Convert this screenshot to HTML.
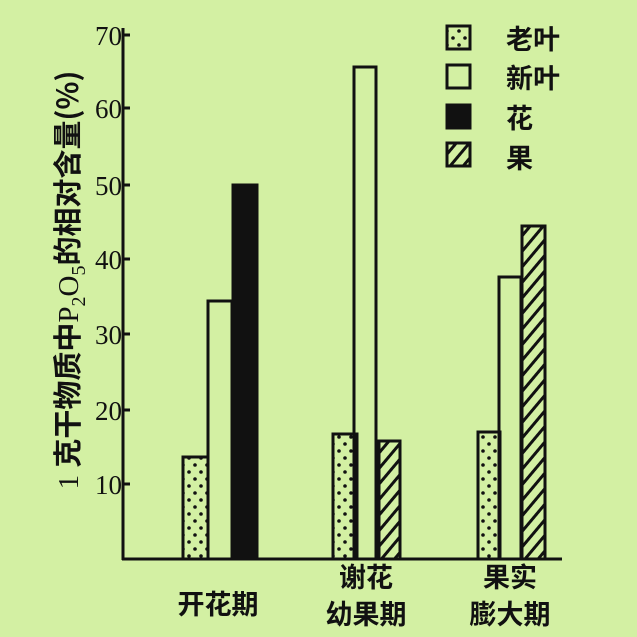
<!DOCTYPE html>
<html><head><meta charset="utf-8"><style>
html,body{margin:0;padding:0;background:#d3f0a3;}
svg{display:block}
text{font-family:"Liberation Serif","Noto Serif CJK SC","Noto Sans CJK SC",serif;fill:#111}
.cj{font-family:"Noto Sans CJK SC","WenQuanYi Zen Hei",sans-serif;font-weight:bold}
</style></head><body>
<svg width="637" height="637" viewBox="0 0 637 637" xmlns="http://www.w3.org/2000/svg">
<defs>
<pattern id="dots" width="12" height="14" patternUnits="userSpaceOnUse">
<rect width="12" height="14" fill="#d3f0a3"/>
<circle cx="3" cy="3" r="1.8" fill="#111"/><circle cx="9" cy="10" r="1.8" fill="#111"/>
</pattern>
<pattern id="hatch" width="10" height="10" patternUnits="userSpaceOnUse" patternTransform="rotate(40)">
<rect width="10" height="10" fill="#d3f0a3"/><rect x="0" y="0" width="3" height="10" fill="#111"/>
</pattern>
</defs>
<rect width="637" height="637" fill="#d3f0a3"/>
<line x1="123" y1="28" x2="123" y2="560" stroke="#111" stroke-width="3"/>
<line x1="122" y1="559" x2="562" y2="559" stroke="#111" stroke-width="3"/>
<g stroke="#111" stroke-width="3">
<line x1="123" y1="35" x2="130" y2="35"/><line x1="123" y1="108" x2="130" y2="108"/>
<line x1="123" y1="185" x2="130" y2="185"/><line x1="123" y1="259" x2="130" y2="259"/>
<line x1="123" y1="334" x2="130" y2="334"/><line x1="123" y1="410" x2="130" y2="410"/>
<line x1="123" y1="484" x2="130" y2="484"/>
</g>
<g font-size="27" text-anchor="end">
<text x="122" y="45">70</text><text x="122" y="118">60</text><text x="122" y="195">50</text>
<text x="122" y="269">40</text><text x="122" y="344">30</text><text x="122" y="420">20</text>
<text x="122" y="494">10</text>
</g>
<text transform="translate(78,280) rotate(-90)" text-anchor="middle" font-size="29">1 <tspan class="cj" font-weight="normal">克干物质中</tspan>P<tspan font-size="20" dy="7">2</tspan><tspan dy="-7">O</tspan><tspan font-size="20" dy="7">5</tspan><tspan dy="-7" class="cj" font-weight="normal">的相对含量(%)</tspan></text>
<g stroke="#111" stroke-width="3">
<rect x="183" y="457" width="25" height="102" fill="url(#dots)"/>
<rect x="208" y="301" width="24" height="258" fill="none"/>
<rect x="233" y="185" width="24" height="374" fill="#111"/>
<rect x="333" y="434" width="24" height="125" fill="url(#dots)"/>
<rect x="354" y="67" width="22" height="492" fill="none"/>
<rect x="379" y="441" width="21" height="118" fill="url(#hatch)"/>
<rect x="478" y="432" width="22" height="127" fill="url(#dots)"/>
<rect x="499" y="277" width="22" height="282" fill="none"/>
<rect x="522" y="226" width="23" height="333" fill="url(#hatch)"/>
</g>
<g font-size="27" text-anchor="middle">
<text x="218" y="614" class="cj">开花期</text>
<text x="366" y="587" class="cj">谢花</text><text x="366" y="624" class="cj">幼果期</text>
<text x="510" y="587" class="cj">果实</text><text x="510" y="624" class="cj">膨大期</text>
</g>
<g stroke="#111" stroke-width="3">
<rect x="447" y="26" width="23" height="23" fill="url(#dots)"/>
<rect x="447" y="65" width="23" height="23" fill="none"/>
<rect x="447" y="105" width="23" height="23" fill="#111"/>
<rect x="447" y="143" width="23" height="23" fill="url(#hatch)"/>
</g>
<g font-size="27">
<text x="506" y="49" class="cj">老叶</text>
<text x="506" y="88" class="cj">新叶</text>
<text x="506" y="128" class="cj">花</text>
<text x="506" y="168" class="cj">果</text>
</g>
</svg>
</body></html>
